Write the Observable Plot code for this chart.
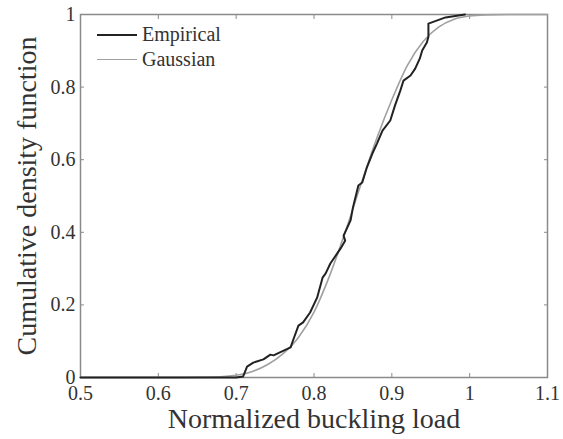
<!DOCTYPE html>
<html>
<head>
<meta charset="utf-8">
<script src="https://cdn.jsdelivr.net/npm/d3@7"></script>
<script src="https://cdn.jsdelivr.net/npm/@observablehq/plot@0.6"></script>
<style>
  body { margin: 0; background: #fff; }
  #wrap { position: relative; width: 563px; height: 439px; font-family: "Liberation Serif", "DejaVu Serif", serif; }
  #legend { position: absolute; left: 97px; top: 22px; font-size: 20px; color: #333; line-height: 25px; }
  #legend .row { display: flex; align-items: center; }
  #legend .sw { width: 40px; height: 0; margin-right: 5px; }
</style>
</head>
<body>
<div id="wrap"></div>
<script>
// Empirical CDF
const empX = [0.50, 0.70, 0.709, 0.714, 0.722, 0.735, 0.744, 0.748, 0.761, 0.770, 0.773, 0.780, 0.786, 0.795, 0.804, 0.811, 0.815, 0.821, 0.834, 0.840, 0.838, 0.847, 0.850, 0.857, 0.862, 0.868, 0.875, 0.881, 0.888, 0.898, 0.904, 0.911, 0.915, 0.924, 0.930, 0.936, 0.939, 0.945, 0.947, 0.947, 0.969, 0.994];
const empY = [0, 0, 0.003, 0.030, 0.041, 0.050, 0.063, 0.061, 0.074, 0.083, 0.102, 0.143, 0.152, 0.179, 0.220, 0.275, 0.287, 0.314, 0.355, 0.377, 0.391, 0.433, 0.468, 0.529, 0.537, 0.579, 0.617, 0.645, 0.680, 0.708, 0.749, 0.791, 0.818, 0.832, 0.851, 0.879, 0.901, 0.923, 0.939, 0.975, 0.992, 1.0];

// Gaussian fit
const gaussX = [0.50, 0.60, 0.65, 0.68, 0.70, 0.72, 0.74, 0.76, 0.78, 0.80, 0.82, 0.84, 0.86, 0.88, 0.90, 0.92, 0.94, 0.96, 0.98, 1.00, 1.02, 1.05, 1.10];
const gaussY = [0, 0, 0.0005, 0.002, 0.006, 0.016, 0.035, 0.065, 0.11, 0.18, 0.28, 0.40, 0.53, 0.655, 0.765, 0.86, 0.925, 0.965, 0.987, 0.996, 0.999, 1, 1];

const xTicks = [0.5, 0.6, 0.7, 0.8, 0.9, 1, 1.1];
const yTicks = [0, 0.2, 0.4, 0.6, 0.8, 1];
const xLabel = "Normalized buckling load";
const yLabel = "Cumulative density function";
const seriesNames = ["Empirical", "Gaussian"];
const seriesColors = ["#222222", "#a0a0a0"];

const emp = empX.map((x, i) => ({x, y: empY[i]}));
const gauss = gaussX.map((x, i) => ({x, y: gaussY[i]}));

const font = "Liberation Serif, DejaVu Serif, serif";
const axisColor = "#8a8a8a";
const textColor = "#333";
const fmt = d => `${d}`;

const chart = Plot.plot({
  width: 563,
  height: 439,
  marginLeft: 80,
  marginRight: 16,
  marginTop: 14,
  marginBottom: 62,
  style: { fontFamily: font, background: "#fff", color: textColor },
  x: { domain: [0.5, 1.1] },
  y: { domain: [0, 1] },
  marks: [
    Plot.frame({ stroke: axisColor, strokeWidth: 1.5 }),
    // inward ticks on all sides
    Plot.axisX({ anchor: "bottom", ticks: xTicks, tickSize: 0, tickPadding: 8, tickFormat: fmt, fontSize: 20, fill: textColor, label: null }),
    Plot.axisX({ anchor: "bottom", ticks: xTicks, tickSize: -4, tickFormat: () => "", stroke: axisColor, label: null }),
    Plot.axisX({ anchor: "top", ticks: xTicks, tickSize: -4, tickFormat: () => "", stroke: axisColor, label: null }),
    Plot.axisY({ anchor: "left", ticks: yTicks, tickSize: 0, tickPadding: 5, tickFormat: fmt, fontSize: 20, fill: textColor, label: null }),
    Plot.axisY({ anchor: "left", ticks: yTicks, tickSize: -4, tickFormat: () => "", stroke: axisColor, label: null }),
    Plot.axisY({ anchor: "right", ticks: yTicks, tickSize: -4, tickFormat: () => "", stroke: axisColor, label: null }),
    Plot.line(gauss, { x: "x", y: "y", stroke: seriesColors[1], strokeWidth: 1.6, curve: "monotone-x" }),
    Plot.line(emp, { x: "x", y: "y", stroke: seriesColors[0], strokeWidth: 2 }),
    Plot.text([xLabel], { frameAnchor: "bottom", text: d => d, dy: 42, fontSize: 28, fill: textColor, lineAnchor: "middle", textAnchor: "middle" }),
    Plot.text([yLabel], { frameAnchor: "left", text: d => d, dx: -53, rotate: -90, fontSize: 28, fill: textColor, lineAnchor: "middle", textAnchor: "middle" })
  ]
});

const wrap = document.getElementById("wrap");
wrap.appendChild(chart);

const legend = document.createElement("div");
legend.id = "legend";
seriesNames.forEach((name, i) => {
  const row = document.createElement("div");
  row.className = "row";
  const sw = document.createElement("span");
  sw.className = "sw";
  sw.style.borderTop = `${i === 0 ? 2 : 1.6}px solid ${seriesColors[i]}`;
  const t = document.createElement("span");
  t.textContent = name;
  row.appendChild(sw);
  row.appendChild(t);
  legend.appendChild(row);
});
wrap.appendChild(legend);
</script>
</body>
</html>
